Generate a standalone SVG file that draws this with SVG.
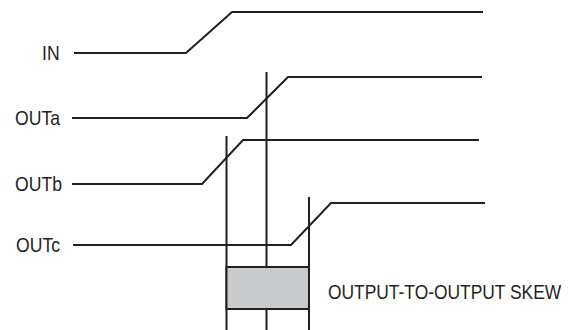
<svg xmlns="http://www.w3.org/2000/svg" width="571" height="330" viewBox="0 0 571 330">
<style>
.w{fill:none;stroke:#231f20;stroke-width:2;stroke-linejoin:miter}
.t{font-family:"Liberation Sans",Arial,sans-serif;font-size:20px;fill:#231f20}
</style>
<rect width="571" height="330" fill="#fff"/>
<g id="connectors">
<line class="w" x1="226.5" y1="136" x2="226.5" y2="330"/>
<line class="w" x1="266.5" y1="72" x2="266.5" y2="330"/>
<line class="w" x1="309" y1="197" x2="309" y2="330"/>
</g>
<g id="IN">
<text class="t" transform="translate(42,60) scale(0.88,1)">IN</text>
<polyline class="w" points="74,53 186,53 232,12 483,12"/>
</g>
<g id="OUTa">
<text class="t" transform="translate(15,125) scale(0.88,1)">OUTa</text>
<polyline class="w" points="72,118 247,118 288,77 482,77"/>
</g>
<g id="OUTb">
<text class="t" transform="translate(15,191) scale(0.88,1)">OUTb</text>
<polyline class="w" points="72,184 202,184 243,140 479,140"/>
</g>
<g id="OUTc">
<text class="t" transform="translate(16,252) scale(0.88,1)">OUTc</text>
<polyline class="w" points="73,245 291,245 331,203 485,203"/>
</g>
<g id="skew">
<rect x="226.5" y="267" width="82.5" height="42" fill="#c9cacc" stroke="#231f20" stroke-width="2"/>
<text class="t" transform="translate(328,299) scale(0.87,1)">OUTPUT-TO-OUTPUT SKEW</text>
</g>
</svg>
